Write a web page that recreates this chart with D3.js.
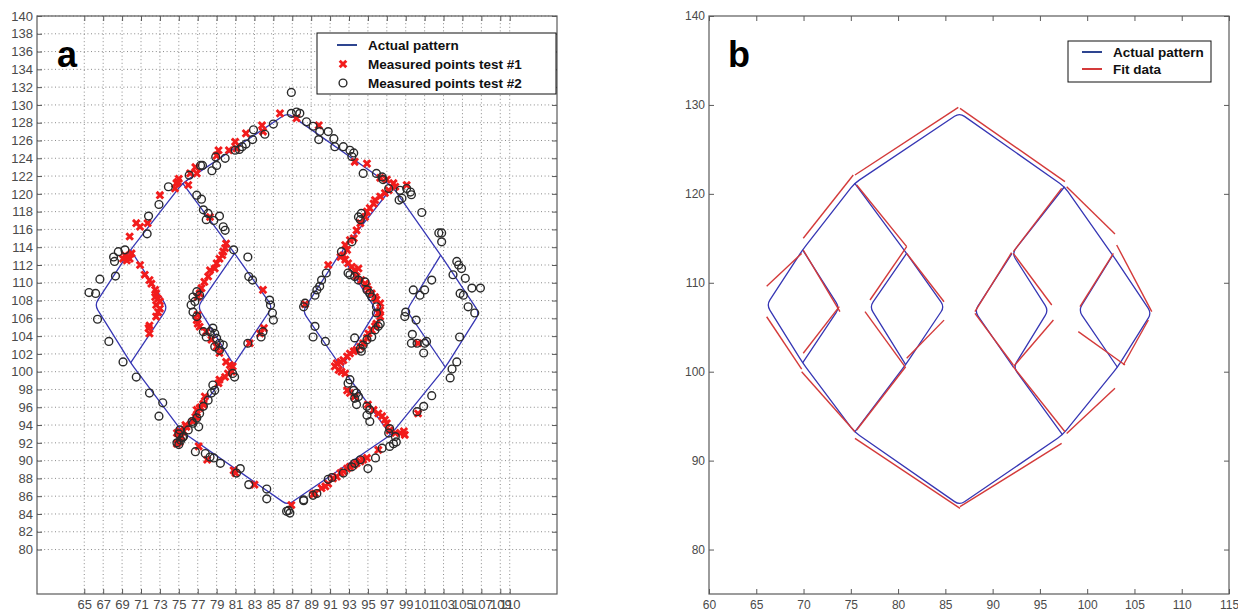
<!DOCTYPE html>
<meta charset="utf-8">
<script src="https://d3js.org/d3.v7.min.js"></script>
<style>
  body { margin: 0; background: #fff; }
  svg { font-family: Arial, "Liberation Sans", sans-serif; }
</style>
<body>
<script>

// actual pattern, same in both panels, as polylines
var outerLoop = [[86.5,129.1],[75.4,121.2],[69.9,113.7],[66.1,107.5],[69.9,101.0],[75.4,93.2],[86.5,85.0],
                 [97.4,92.9],[103.2,100.5],[106.8,106.6],[102.7,113.1],[97.6,120.8]];
var leftLobe = [[69.9,113.7],[73.8,107.2],[69.9,101.0]];
var leftDiamond = [[75.4,121.2],[80.9,113.3],[84.9,107.3],[80.8,100.8],[75.4,93.2]];
var leftDiamondIn = [[80.9,113.3],[77.0,107.3],[80.8,100.8]];
var rightDiamond = [[97.6,120.8],[92.05,113.3],[95.9,106.9],[92.2,100.5],[97.4,92.9]];
var rightDiamondIn = [[92.05,113.3],[88.1,106.8],[92.2,100.5]];
var rightLobe = [[102.7,113.1],[99.1,106.9],[103.2,100.5]];

// panel a: measured points test #1 (red x)
var test1 = [
  [85.7,129.05],[87.45,128.5],[83.8,127.7],[83.9,127.0],[82.1,126.8],[80.96,125.85],[81.1,125.1],[80.3,124.9],
  [79.2,124.9],[79.0,124.3],[76.75,123.0],[76.9,122.3],[76.2,122.3],[75.0,121.7],
  [89.8,127.7],[93.6,123.6],[94.9,123.4],[96.3,121.8],[97.0,121.6],[97.7,121.2],[97.9,120.8],[97.2,120.4],
  [96.8,120.1],[96.3,119.7],[99.1,121.0],
  [74.75,121.2],[74.6,120.6],[74.9,121.35],[76.0,121.0],[73.0,119.85],[78.3,117.4],[71.7,116.7],[70.5,116.7],
  [70.9,116.3],[69.8,115.2],[69.3,113.1],[69.6,112.9],[69.8,112.7],[69.5,112.5],[70.0,113.3],[69.1,112.7],
  [70.9,112.0],[71.4,110.9],[71.9,110.3],[72.1,109.9],[72.5,109.2],[72.6,108.8],[72.5,108.4],[72.8,108.2],
  [73.0,107.9],[72.6,107.5],[73.0,107.1],[72.8,106.7],[72.6,106.2],[71.9,105.2],[71.8,104.9],[71.9,104.3],
  [80.0,114.4],[79.9,113.9],[79.7,113.5],[79.6,113.1],[79.3,112.7],[79.0,112.2],[78.8,111.6],[78.3,111.4],
  [78.1,110.7],[77.7,110.1],[77.4,109.4],[77.2,108.8],[77.0,108.4],[77.0,106.4],[76.9,105.8],[77.0,105.4],
  [77.2,105.05],[77.9,104.5],[78.45,103.6],[79.0,102.8],[79.3,102.1],[80.0,101.1],[80.4,100.75],[80.7,100.6],
  [80.6,100.0],[80.2,99.8],[79.9,99.4],[79.3,99.1],[79.2,98.7],[77.75,97.2],[77.6,96.4],[77.2,95.9],
  [76.9,94.9],[76.5,94.4],[75.8,93.8],[75.5,93.3],[75.3,92.7],[83.9,109.2],[84.0,104.9],[83.6,104.3],[82.5,103.2],
  [75.7,94.0],[75.1,93.3],[74.8,93.1],[75.0,92.5],[75.1,92.1],[74.8,91.9],[76.75,94.9],[76.9,95.7],
  [77.3,96.0],[77.6,96.3],[77.1,91.6],[78.0,90.1],[80.8,88.9],[81.0,88.6],[83.0,87.3],[86.9,85.0],
  [90.8,112.0],[88.35,107.6],
  [95.75,119.3],[95.6,118.9],[95.2,118.4],[94.9,118.0],[94.7,117.4],[94.2,116.7],[93.8,115.9],[93.5,115.0],
  [93.1,114.8],[92.6,114.25],[92.8,113.7],[92.4,113.1],[92.1,112.9],
  [92.6,112.6],[92.9,112.2],[93.3,111.8],[93.6,111.4],[94.0,111.6],[93.8,110.7],[94.3,110.3],[94.7,109.9],
  [94.9,109.6],[95.05,109.2],[95.4,108.8],[95.75,108.4],[95.9,108.1],[96.3,107.7],[96.3,106.9],[96.1,106.6],
  [96.3,106.2],[95.9,105.4],[95.75,105.1],[95.4,104.7],[95.05,104.3],[94.9,103.8],[94.5,103.2],[94.2,102.8],
  [93.8,102.45],[93.5,102.3],[93.1,102.05],[92.8,101.7],[92.4,101.3],[92.1,101.1],[91.7,100.95],[91.5,100.6],
  [91.9,100.2],[92.2,100.0],[92.6,99.8],[92.8,97.9],[93.1,97.6],[93.6,97.2],[100.3,103.2],
  [95.0,96.3],[95.6,95.7],[96.1,95.3],[96.5,95.0],[96.8,94.6],[97.0,94.2],[97.3,93.4],[97.9,93.1],
  [98.4,93.1],[98.8,93.3],[98.9,92.9],[96.1,91.2],[100.3,95.3],
  [94.9,90.3],[94.5,90.1],[94.2,89.9],[93.8,89.7],[93.5,89.5],[93.1,89.3],[92.8,89.1],[92.4,88.8],
  [92.1,88.6],[91.7,88.2],[91.3,88.0],[90.8,87.4],[90.5,87.1],[90.1,86.9],[89.4,86.3],[89.2,86.2]
];

// panel a: measured points test #2 (black o)
var test2 = [
  [86.9,131.4],[86.9,129.05],[87.45,129.2],[85.0,127.85],[84.1,126.7],[82.9,127.2],[82.8,126.1],[82.1,125.6],
  [81.7,125.3],[81.4,125.0],[80.96,124.9],[79.9,124.0],[78.9,124.15],[79.0,123.2],[78.5,122.6],[77.5,123.2],
  [77.3,123.2],[76.1,122.1],
  [87.8,129.05],[88.5,128.1],[89.2,127.6],[89.9,127.0],[89.8,126.1],[90.8,127.0],[91.4,126.2],[91.5,125.3],
  [92.4,125.3],[93.1,124.9],[93.5,124.6],[93.3,124.2],[94.5,122.3],[95.9,122.3],[96.5,121.9],[96.6,121.6],
  [97.2,120.6],[98.4,120.4],[99.1,120.6],[99.5,120.2],[99.6,119.9],[98.6,119.5],[98.3,119.3],
  [73.9,120.8],[76.9,119.85],[77.4,119.4],[72.9,118.8],[77.6,118.2],[78.1,117.8],[77.9,117.1],[78.7,117.0],
  [79.3,117.5],[79.7,116.3],[79.9,115.9],[71.8,117.5],[71.65,115.5],[69.3,113.7],[68.6,113.5],[68.1,112.9],
  [68.2,112.4],[66.65,110.4],[68.3,110.75],[65.5,108.9],[66.2,108.8],[66.4,105.9],[67.6,103.4],[69.1,101.1],
  [70.5,99.4],[71.9,97.6],[73.3,96.5],[72.9,95.0],
  [80.8,113.7],[82.3,112.9],[82.4,110.7],[82.8,110.3],[84.6,108.05],[84.7,107.5],[84.9,106.6],[85.0,105.8],
  [83.9,104.5],[83.7,103.9],[82.3,103.2],
  [76.9,109.0],[77.2,108.6],[76.5,108.4],[76.7,107.9],[76.3,107.5],[76.5,106.7],[76.9,106.2],
  [77.6,104.5],[77.9,103.9],[78.3,104.5],[78.6,104.9],[78.8,104.3],[79.0,103.75],[79.3,103.2],[79.7,103.0],
  [78.8,102.8],[79.3,102.4],[80.7,99.8],[80.9,99.4],
  [78.6,98.5],[78.8,97.9],[78.45,97.6],[78.1,96.8],[77.6,96.1],[77.2,95.3],[76.9,94.8],[76.5,94.2],
  [76.0,93.45],[75.1,93.45],[75.5,92.7],
  [75.0,93.0],[75.4,92.6],[75.2,92.3],[74.8,92.0],[75.0,91.8],[76.4,94.4],[77.1,93.8],[76.75,91.0],
  [77.8,90.8],[78.3,90.4],[78.7,90.3],[79.4,89.7],[81.1,88.6],[81.5,89.1],[82.4,87.3],[84.3,86.8],
  [84.3,85.7],[86.4,84.3],[86.75,84.1],[86.6,84.4],[88.2,85.5],
  [94.0,117.4],[94.2,117.1],[94.3,117.8],[93.3,114.6],[92.2,113.5],
  [90.6,111.1],[90.1,110.3],[89.9,109.6],[89.6,109.2],[89.4,108.6],[88.35,107.7],[88.2,107.3],
  [89.4,105.1],[89.2,103.9],[90.5,103.4],
  [92.9,111.1],[93.1,110.9],[93.6,110.7],[94.0,110.3],[94.7,110.1],[94.9,109.2],[95.2,108.8],[95.4,108.4],
  [95.9,107.3],[95.9,106.6],[96.3,105.4],[96.1,105.1],[95.75,104.7],[95.4,103.9],[94.9,103.6],[94.5,103.0],
  [94.2,102.6],[94.3,102.3],[93.6,103.8],[93.1,99.1],[92.9,98.7],[93.5,97.9],[93.8,97.6],[94.0,97.2],[93.6,97.0],
  [100.7,117.9],[102.5,115.6],[102.8,115.6],[102.8,114.6],[104.4,112.4],[104.6,112.0],[104.9,111.6],[104.0,110.9],
  [105.3,110.5],[106.0,109.4],[106.9,109.4],[104.75,108.8],[105.1,108.6],[105.6,107.3],[106.3,106.6],
  [101.75,110.3],[101.0,109.2],[100.5,108.6],[99.8,109.2],[99.0,106.7],[98.9,106.2],[100.1,105.8],[99.7,104.2],
  [99.6,103.2],[101.0,103.2],[101.2,103.4],[100.9,102.1],[100.2,103.2],
  [104.7,103.9],[104.4,101.1],[103.9,100.3],[103.7,99.3],[101.75,97.3],
  [93.8,96.3],[94.9,96.1],[95.2,95.7],[94.9,95.1],[95.2,94.4],[97.3,93.6],[97.2,93.1],[97.9,92.7],
  [98.0,92.1],[97.7,91.9],[97.3,91.6],[96.5,91.4],[95.8,90.3],[100.2,95.5],[100.9,96.1],
  [95.0,89.1],[94.2,90.1],[93.6,89.7],[93.3,89.3],[92.4,88.6],[90.8,87.9],[91.2,88.1],[89.6,86.3],
  [89.2,86.1],[88.2,85.6]
];

// panel b: fitted line segments [x1, y1, x2, y2]
var fitSegments = [
  [86.37,129.73,75.44,122.12],[75.26,122.12,69.97,115.0],[69.8,113.3,66.1,109.6],[66.1,106.18,69.8,100.3],
  [69.8,100.0,75.44,93.25],[69.97,113.68,73.85,106.75],[73.78,107.31,69.97,102.07],[75.62,121.0,80.91,114.06],
  [80.91,114.06,77.03,108.06],[76.5,106.75,80.73,100.56],[80.91,113.3,84.86,107.87],[84.86,105.8,80.91,101.5],
  [80.8,100.56,75.62,93.44],[75.44,92.5,86.55,84.63],[86.55,129.62,97.65,121.37],[97.83,120.8,102.94,115.48],
  [97.3,120.62,92.19,113.5],[92.0,113.38,88.13,106.75],[92.19,113.3,96.25,107.5],[88.13,106.56,92.19,100.75],
  [96.43,105.81,92.19,100.56],[92.19,100.56,97.65,93.25],[102.77,113.3,99.24,107.31],[103.12,114.25,106.83,106.75],
  [99.06,104.5,104.0,100.75],[106.47,105.81,103.82,100.75],[102.94,98.13,97.83,93.06],[97.3,91.94,86.55,84.82]
];

// ticks
var xTicksA = d3.range(65, 110, 2).concat([110]);
var yTicksA = d3.range(80, 141, 2);
var xTicksB = d3.range(60, 116, 5);
var yTicksB = d3.range(80, 141, 10);

var legendA = ["Actual pattern", "Measured points test #1", "Measured points test #2"];
var legendB = ["Actual pattern", "Fit data"];

var blue = "#3636b4", red = "#f21c1c", fitRed = "#d43a3a", dark = "#2a2a2a", axisCol = "#5a5a5a";
var xMark = "M-3.3,-3.3L3.3,3.3M-3.3,3.3L3.3,-3.3";

var pw = 520, ph = 578;
var x = d3.scaleLinear().domain([60, 115]).range([0, pw]);
var y = d3.scaleLinear().domain([75, 140]).range([ph, 0]);

var svg = d3.select("body").append("svg").attr("width", 1238).attr("height", 611);

function roundedPath(pts, r, closed) {
  var p = d3.path(), n = pts.length;
  function corner(a, b, c, first) {
    var d1 = Math.hypot(b[0] - a[0], b[1] - a[1]), d2 = Math.hypot(c[0] - b[0], c[1] - b[1]);
    var r1 = Math.min(r, d1 / 2), r2 = Math.min(r, d2 / 2);
    var sx = b[0] - (b[0] - a[0]) * r1 / d1, sy = b[1] - (b[1] - a[1]) * r1 / d1;
    if (first) p.moveTo(sx, sy); else p.lineTo(sx, sy);
    p.quadraticCurveTo(b[0], b[1], b[0] + (c[0] - b[0]) * r2 / d2, b[1] + (c[1] - b[1]) * r2 / d2);
  }
  if (closed) {
    for (var i = 0; i < n; i++) corner(pts[(i + n - 1) % n], pts[i], pts[(i + 1) % n], i === 0);
    p.closePath();
  } else {
    p.moveTo(pts[0][0], pts[0][1]);
    for (var j = 1; j < n - 1; j++) corner(pts[j - 1], pts[j], pts[j + 1], false);
    p.lineTo(pts[n - 1][0], pts[n - 1][1]);
  }
  return p.toString();
}

function frame(g, xt, yt, fs, grid) {
  if (grid) {
    g.append("g").selectAll("line").data(xt).enter().append("line")
      .attr("x1", function (d) { return x(d); }).attr("x2", function (d) { return x(d); })
      .attr("y1", 0).attr("y2", ph)
      .attr("stroke", "#8a8a8a").attr("stroke-width", 1).attr("stroke-dasharray", "1,2.6");
    g.append("g").selectAll("line").data(yt).enter().append("line")
      .attr("y1", function (d) { return y(d); }).attr("y2", function (d) { return y(d); })
      .attr("x1", 0).attr("x2", pw)
      .attr("stroke", "#8a8a8a").attr("stroke-width", 1).attr("stroke-dasharray", "1,2.6");
  }
  var axes = [
    g.append("g").attr("transform", "translate(0," + ph + ")")
      .call(d3.axisBottom(x).tickValues(xt).tickSize(-5).tickPadding(6).tickFormat(d3.format("d"))),
    g.append("g").call(d3.axisTop(x).tickValues(xt).tickSize(-5).tickFormat("")),
    g.append("g").call(d3.axisLeft(y).tickValues(yt).tickSize(-5).tickPadding(4).tickFormat(d3.format("d"))),
    g.append("g").attr("transform", "translate(" + pw + ",0)")
      .call(d3.axisRight(y).tickValues(yt).tickSize(-5).tickFormat(""))
  ];
  axes.forEach(function (a) {
    a.select(".domain").remove();
    a.selectAll(".tick line").attr("stroke", axisCol);
    a.selectAll(".tick text").attr("fill", "#4a4a4a").style("font-size", fs + "px")
      .style("font-family", "Arial, 'Liberation Sans', sans-serif");
  });
  g.append("rect").attr("width", pw).attr("height", ph)
    .attr("fill", "none").attr("stroke", axisCol).attr("stroke-width", 1.2);
}

function pattern(g) {
  var px = function (pts) { return pts.map(function (d) { return [x(d[0]), y(d[1])]; }); };
  g.append("path").attr("d", roundedPath(px(outerLoop), 6, true))
    .attr("fill", "none").attr("stroke", blue).attr("stroke-width", 1.3);
  [leftLobe, leftDiamond, leftDiamondIn, rightDiamond, rightDiamondIn, rightLobe].forEach(function (pl) {
    g.append("path").attr("d", roundedPath(px(pl), 6, false))
      .attr("fill", "none").attr("stroke", blue).attr("stroke-width", 1.3);
  });
}

// ---------- panel a ----------
var ga = svg.append("g").attr("transform", "translate(37,16)");
frame(ga, xTicksA, yTicksA, 13, true);
pattern(ga);

ga.append("g").selectAll("path").data(test1).enter().append("path")
  .attr("transform", function (d) { return "translate(" + x(d[0]) + "," + y(d[1]) + ")"; })
  .attr("d", xMark)
  .attr("stroke", red).attr("stroke-width", 2.9).attr("fill", "none");

ga.append("g").selectAll("circle").data(test2).enter().append("circle")
  .attr("cx", function (d) { return x(d[0]); })
  .attr("cy", function (d) { return y(d[1]); })
  .attr("r", 3.9)
  .attr("fill", "none").attr("stroke", dark).attr("stroke-width", 1.4);

svg.append("text").attr("x", 57).attr("y", 67).attr("font-size", 36).attr("font-weight", "bold").text("a");

// legend a
var la = svg.append("g");
la.append("rect").attr("x", 317).attr("y", 33).attr("width", 239).attr("height", 61)
  .attr("fill", "#fff").attr("stroke", "#111").attr("stroke-width", 1);
la.append("line").attr("x1", 337).attr("x2", 357).attr("y1", 45).attr("y2", 45)
  .attr("stroke", "#2e4590").attr("stroke-width", 2);
la.append("path").attr("transform", "translate(343,64)").attr("d", xMark)
  .attr("stroke", red).attr("stroke-width", 2.9);
la.append("circle").attr("cx", 343).attr("cy", 83).attr("r", 3.9)
  .attr("fill", "none").attr("stroke", dark).attr("stroke-width", 1.4);
la.selectAll("text").data(legendA).enter().append("text")
  .attr("x", 368).attr("y", function (d, i) { return 50 + i * 19; })
  .attr("font-size", 13.5).attr("font-weight", "bold").attr("fill", "#111")
  .text(function (d) { return d; });

// ---------- panel b ----------
var gb = svg.append("g").attr("transform", "translate(709,16)");
frame(gb, xTicksB, yTicksB, 12, false);
pattern(gb);

gb.append("g").selectAll("line").data(fitSegments).enter().append("line")
  .attr("x1", function (d) { return x(d[0]); }).attr("y1", function (d) { return y(d[1]); })
  .attr("x2", function (d) { return x(d[2]); }).attr("y2", function (d) { return y(d[3]); })
  .attr("stroke", fitRed).attr("stroke-width", 1.4);

svg.append("text").attr("x", 728).attr("y", 67).attr("font-size", 36).attr("font-weight", "bold").text("b");

// legend b
var lb = svg.append("g");
lb.append("rect").attr("x", 1068).attr("y", 41).attr("width", 143).attr("height", 41)
  .attr("fill", "#fff").attr("stroke", "#111").attr("stroke-width", 1);
lb.selectAll("line").data(legendB).enter().append("line")
  .attr("x1", 1082).attr("x2", 1102)
  .attr("y1", function (d, i) { return 52 + i * 17; }).attr("y2", function (d, i) { return 52 + i * 17; })
  .attr("stroke", function (d, i) { return i ? fitRed : "#2e4590"; }).attr("stroke-width", 2);
lb.selectAll("text").data(legendB).enter().append("text")
  .attr("x", 1113).attr("y", function (d, i) { return 57 + i * 17; })
  .attr("font-size", 13.5).attr("font-weight", "bold").attr("fill", "#111")
  .text(function (d) { return d; });

</script>
</body>
